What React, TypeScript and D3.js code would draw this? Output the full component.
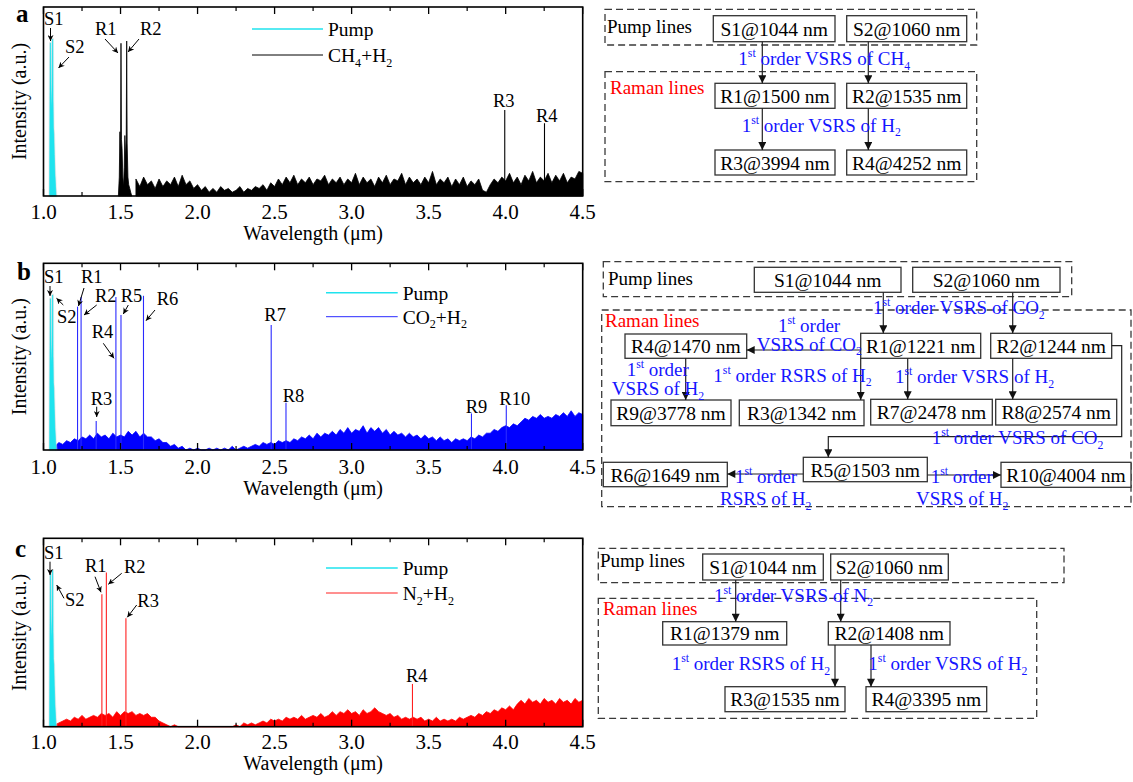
import React from "react";
import * as d3 from "d3";

const FONT = "'Liberation Serif','Times New Roman',Times,serif";

// ---------- axis ----------
const xMajorTicks = [1.0, 1.5, 2.0, 2.5, 3.0, 3.5, 4.0, 4.5];
const xMinorTicks = [1.25, 1.75, 2.25, 2.75, 3.25, 3.75, 4.25];
const xTickLabels = ["1.0", "1.5", "2.0", "2.5", "3.0", "3.5", "4.0", "4.5"];
const xDomain = [1.0, 4.5];

// ---------- pump (S1 / S2) ----------
const pumpWl = [1.040, 1.042, 1.044, 1.046, 1.048, 1.050, 1.053, 1.056, 1.058, 1.060, 1.062, 1.064, 1.067, 1.070, 1.074, 1.078, 1.082];
const pumpI = [0, 0.55, 0.81, 0.81, 0.6, 0.5, 0.45, 0.6, 0.83, 0.83, 0.5, 0.36, 0.33, 0.22, 0.12, 0.05, 0];

// ---------- panel a : CH4 + H2 ----------
const aClusterWl = [1.486, 1.492, 1.496, 1.500, 1.503, 1.506, 1.510, 1.515, 1.520, 1.524, 1.528, 1.533, 1.537, 1.540, 1.543, 1.548, 1.553, 1.560, 1.566, 1.573];
const aClusterI = [0, 0.1, 0.34, 0.2, 0.808, 0.3, 0.25, 0.1, 0.05, 0.15, 0.32, 0.2, 0.3, 0.82, 0.28, 0.1, 0.06, 0.04, 0.02, 0];
const aLineWl = [3.994, 4.252];
const aLineI = [0.455, 0.385];
const aNoiseStart = 1.6;
const aNoise = [
  0.09, 0.05, 0.1, 0.06, 0.08, 0.04, 0.09, 0.05, 0.08, 0.06, 0.1, 0.05, 0.11, 0.06, 0.08, 0.04,
  0.06, 0.03, 0.05, 0.02, 0.04, 0.02, 0.05, 0.03, 0.04, 0.02, 0.03, 0.05, 0.02, 0.04, 0.03, 0.05, 0.04, 0.06, 0.03, 0.07,
  0.05, 0.09, 0.06, 0.1, 0.07, 0.11, 0.06, 0.09, 0.07, 0.1, 0.06, 0.09, 0.08, 0.11, 0.06, 0.09, 0.07, 0.1, 0.06, 0.09,
  0.07, 0.12, 0.06, 0.1, 0.07, 0.09, 0.05, 0.1, 0.07, 0.11, 0.06, 0.09, 0.08, 0.12, 0.06, 0.1, 0.07, 0.09, 0.06, 0.1,
  0.07, 0.13, 0.06, 0.09, 0.07, 0.1, 0.05, 0.09, 0.06, 0.1, 0.05, 0.08, 0.06, 0.09, 0.03, 0.02, 0.06, 0.09, 0.07, 0.1,
  0.08, 0.12, 0.07, 0.1, 0.06, 0.11, 0.08, 0.13, 0.07, 0.1, 0.08, 0.12, 0.07, 0.11, 0.08, 0.12, 0.07, 0.1, 0.09, 0.13,
  0.12,
];

// ---------- panel b : CO2 + H2 ----------
const bLineWl = [1.221, 1.244, 1.342, 1.470, 1.503, 1.649, 2.478, 2.574, 3.778, 4.004];
const bLineI = [0.768, 0.82, 0.155, 0.82, 0.723, 0.826, 0.67, 0.253, 0.196, 0.24];
const bNoiseStart = 1.075;
const bNoise = [
  0.02, 0.04, 0.03,
  0.05, 0.04, 0.06, 0.05, 0.07, 0.06,
  0.08, 0.06, 0.09, 0.07, 0.08, 0.06, 0.09, 0.07,
  0.08, 0.07, 0.1, 0.08, 0.1, 0.07, 0.09, 0.07,
  0.07, 0.05, 0.06, 0.04, 0.04, 0.02, 0.03, 0.01,
  0.02, 0.0, 0.01, 0.0, 0.01, 0.0, 0.0, 0.01, 0.0, 0.01, 0.0, 0.01, 0.0, 0.02, 0.0, 0.01, 0.02, 0.01, 0.02, 0.03,
  0.02, 0.04, 0.03, 0.04, 0.03, 0.05, 0.04, 0.05, 0.04, 0.06, 0.05, 0.07, 0.06, 0.08, 0.06, 0.09, 0.07, 0.09, 0.08, 0.1,
  0.08, 0.11, 0.09, 0.12, 0.09, 0.11, 0.1, 0.13, 0.09, 0.12, 0.1, 0.12, 0.09, 0.11, 0.08, 0.1, 0.08, 0.09, 0.07, 0.09,
  0.07, 0.08, 0.06, 0.08, 0.06, 0.07, 0.05, 0.07, 0.05, 0.06, 0.04, 0.06, 0.05, 0.06, 0.05, 0.07, 0.06, 0.08, 0.07, 0.09,
  0.09, 0.11, 0.1, 0.12, 0.13, 0.12, 0.14, 0.13, 0.15, 0.17, 0.16, 0.18, 0.17, 0.19, 0.17, 0.18, 0.17, 0.19, 0.18, 0.2,
  0.18, 0.21, 0.18, 0.2, 0.19,
];

// ---------- panel c : N2 + H2 ----------
const cLineWl = [1.379, 1.408, 1.535, 3.395];
const cLineI = [0.703, 0.818, 0.576, 0.227];
const cNoiseStart = 1.075;
const cNoise = [
  0.01, 0.02, 0.03,
  0.04, 0.03, 0.05, 0.04, 0.06, 0.04,
  0.05, 0.06, 0.05, 0.07, 0.06, 0.07, 0.05, 0.08,
  0.06, 0.08, 0.07, 0.08, 0.06, 0.07, 0.06, 0.07,
  0.05, 0.05, 0.03, 0.02, 0.01, 0.0, 0.01, 0.0,
  0, 0, 0, 0, 0, 0, 0, 0, 0, 0, 0, 0, 0, 0, 0.01, 0.0, 0.02, 0.01, 0.02, 0.01,
  0.02, 0.03, 0.02, 0.04, 0.03, 0.04, 0.03, 0.05, 0.04, 0.05, 0.04, 0.06, 0.04, 0.05, 0.06, 0.05, 0.07, 0.05, 0.06, 0.08,
  0.06, 0.08, 0.07, 0.09, 0.07, 0.08, 0.06, 0.09, 0.07, 0.08, 0.1, 0.08, 0.07, 0.06, 0.07, 0.05, 0.06, 0.04, 0.05, 0.04,
  0.05, 0.04, 0.05, 0.03, 0.04, 0.03, 0.05, 0.03, 0.04, 0.03, 0.04, 0.03, 0.05, 0.04, 0.05, 0.06, 0.05, 0.07, 0.06, 0.08,
  0.07, 0.09, 0.08, 0.1, 0.09, 0.11, 0.09, 0.12, 0.14, 0.12, 0.15, 0.13, 0.14, 0.12, 0.15, 0.13, 0.14, 0.12, 0.15, 0.13,
  0.14, 0.12, 0.15, 0.13, 0.14,
];
const noiseStep = 0.025;

const PUMP_COLOR = "#1fe3ee";

// ---------- rich text helper (^{sup}, _{sub}) ----------
function RichText({ x, y, text, size, fill = "#000", anchor = "start", weight = "normal" }: any) {
  const parts = text.split(/(\^\{[^}]*\}|_\{[^}]*\})/).filter((p: string) => p.length);
  let cur = 0;
  return (
    <text x={x} y={y} fontSize={size} fill={fill} textAnchor={anchor} fontFamily={FONT} fontWeight={weight} style={{ whiteSpace: "pre" }}>
      {parts.map((p: string, i: number) => {
        let t = p, target = 0, fs = size;
        if (p.startsWith("^{")) { t = p.slice(2, -1); target = -size * 0.42; fs = size * 0.62; }
        else if (p.startsWith("_{")) { t = p.slice(2, -1); target = size * 0.24; fs = size * 0.62; }
        const dy = target - cur;
        cur = target;
        return <tspan key={i} dy={dy} fontSize={fs}>{t}</tspan>;
      })}
    </text>
  );
}

// ---------- spectrum panel ----------
const X0 = 43.5, X1 = 582.7;

function Spectrum({ cfg }: any) {
  const x = d3.scaleLinear().domain(xDomain).range([X0, X1]);
  const y = d3.scaleLinear().domain([0, 1]).range([cfg.bottom, cfg.top]);
  const area = d3.area<[number, number]>().x(d => x(d[0])).y0(y(0)).y1(d => y(d[1]));
  const noiseData: [number, number][] = cfg.noise.map((v: number, i: number) => [cfg.noiseStart + i * noiseStep, v]);
  const pumpData: [number, number][] = pumpWl.map((w, i) => [w, pumpI[i]]);
  const clusterData: [number, number][] | null = cfg.clusterWl ? cfg.clusterWl.map((w: number, i: number) => [w, cfg.clusterI[i]]) : null;
  const cx = (X0 + X1) / 2;
  const cy = (cfg.top + cfg.bottom) / 2;
  return (
    <g>
      <path d={area(noiseData) || ""} fill={cfg.color} stroke={cfg.color} strokeWidth={0.8} />
      {clusterData && <path d={area(clusterData) || ""} fill={cfg.color} stroke={cfg.color} strokeWidth={0.8} />}
      {cfg.lineWl.map((w: number, i: number) => (
        <line key={i} x1={x(w)} x2={x(w)} y1={y(0)} y2={y(cfg.lineI[i])} stroke={cfg.lineColor} strokeWidth={1.1} />
      ))}
      <path d={area(pumpData) || ""} fill={PUMP_COLOR} stroke="#dcdcdc" strokeWidth={2.5} strokeOpacity={0.6} />
      <path d={area(pumpData) || ""} fill={PUMP_COLOR} stroke={PUMP_COLOR} strokeWidth={0.6} />
      {/* frame */}
      <rect x={X0} y={cfg.top} width={X1 - X0} height={cfg.bottom - cfg.top} fill="none" stroke="#000" strokeWidth={1.6} />
      {xMajorTicks.map((t, i) => (
        <g key={"M" + i}>
          <line x1={x(t)} x2={x(t)} y1={cfg.bottom} y2={cfg.bottom - 7} stroke="#000" strokeWidth={1.3} />
          <line x1={x(t)} x2={x(t)} y1={cfg.top} y2={cfg.top + 7} stroke="#000" strokeWidth={1.3} />
          <text x={x(t)} y={cfg.tickY} textAnchor="middle" fontSize={21} fontFamily={FONT}>{xTickLabels[i]}</text>
        </g>
      ))}
      {xMinorTicks.map((t, i) => (
        <g key={"m" + i}>
          <line x1={x(t)} x2={x(t)} y1={cfg.bottom} y2={cfg.bottom - 4} stroke="#000" strokeWidth={1.2} />
          <line x1={x(t)} x2={x(t)} y1={cfg.top} y2={cfg.top + 4} stroke="#000" strokeWidth={1.2} />
        </g>
      ))}
      <text x={cx} y={cfg.titleY} textAnchor="middle" fontSize={20} fontFamily={FONT}>Wavelength (μm)</text>
      <text transform={`translate(26,${cy}) rotate(-90)`} textAnchor="middle" fontSize={20} fontFamily={FONT}>Intensity (a.u.)</text>
      <text x={cfg.letterX} y={cfg.letterY} fontSize={25} fontWeight="bold" fontFamily={FONT}>{cfg.id}</text>
      {/* legend */}
      <line x1={cfg.legX[0]} x2={cfg.legX[1]} y1={cfg.legY[0]} y2={cfg.legY[0]} stroke={PUMP_COLOR} strokeWidth={1.6} />
      <line x1={cfg.legX[0]} x2={cfg.legX[1]} y1={cfg.legY[1]} y2={cfg.legY[1]} stroke={cfg.lineColor} strokeWidth={1} />
      <RichText x={cfg.legX[1] + 5} y={cfg.legY[0] + 7} text="Pump" size={19.5} />
      <RichText x={cfg.legX[1] + 5} y={cfg.legY[1] + 7} text={cfg.legend} size={19.5} />
      {/* annotations */}
      {cfg.ann.map((a: any, i: number) => (
        <g key={"a" + i}>
          <text x={a.t[0]} y={a.t[1]} fontSize={18.5} fontFamily={FONT} textAnchor={a.mid ? "middle" : "start"}>{a.label}</text>
          {a.arr && <line x1={a.arr[0]} y1={a.arr[1]} x2={a.arr[2]} y2={a.arr[3]} stroke="#000" strokeWidth={1} markerEnd="url(#smallArrow)" />}
        </g>
      ))}
    </g>
  );
}

const panels = [
  {
    id: "a", top: 7, bottom: 196, tickY: 219, titleY: 240, letterX: 16, letterY: 22,
    color: "#000", lineColor: "#000", legend: "CH_{4}+H_{2}", legX: [252, 323], legY: [29, 55],
    noise: aNoise, noiseStart: aNoiseStart, clusterWl: aClusterWl, clusterI: aClusterI,
    lineWl: aLineWl, lineI: aLineI,
    ann: [
      { label: "S1", t: [44, 25], arr: [50.5, 28, 50.5, 41] },
      { label: "S2", t: [65, 53], arr: [69, 57, 58.5, 68] },
      { label: "R1", t: [95, 35], arr: [105, 39, 118, 53] },
      { label: "R2", t: [140, 35], arr: [139, 39, 128, 52] },
      { label: "R3", t: [493, 106.5] },
      { label: "R4", t: [536, 121.5] },
    ],
  },
  {
    id: "b", top: 263.3, bottom: 450, tickY: 473.5, titleY: 495, letterX: 17, letterY: 280,
    color: "#0000ff", lineColor: "#2a2aff", legend: "CO_{2}+H_{2}", legX: [326, 397.7], legY: [292.7, 316.7],
    noise: bNoise, noiseStart: bNoiseStart, lineWl: bLineWl, lineI: bLineI,
    ann: [
      { label: "S1", t: [44, 283.3], arr: [50, 286, 50, 296] },
      { label: "S2", t: [57, 323.3], arr: [63.3, 305, 56.5, 298.3] },
      { label: "R1", t: [81, 283.3], arr: [84, 288, 78.5, 306] },
      { label: "R2", t: [95, 301.7], arr: [96.7, 305, 84, 315] },
      { label: "R5", t: [120.7, 301.7], arr: [128.3, 305, 123.3, 314] },
      { label: "R6", t: [156.7, 305], arr: [155, 310, 146, 320.7] },
      { label: "R4", t: [91.7, 338.3], arr: [103.3, 343.3, 114, 358.3] },
      { label: "R3", t: [90.7, 405], arr: [96.7, 406.7, 96.7, 417] },
      { label: "R7", t: [264.3, 321] },
      { label: "R8", t: [282.7, 401.7] },
      { label: "R9", t: [465.7, 412.7] },
      { label: "R10", t: [499.3, 405] },
    ],
  },
  {
    id: "c", top: 538.3, bottom: 726.7, tickY: 748.5, titleY: 770, letterX: 15, letterY: 556.7,
    color: "#ff0000", lineColor: "#ff2020", legend: "N_{2}+H_{2}", legX: [326, 397.7], legY: [568, 593],
    noise: cNoise, noiseStart: cNoiseStart, lineWl: cLineWl, lineI: cLineI,
    ann: [
      { label: "S1", t: [44, 559.3], arr: [50, 561.7, 50, 575] },
      { label: "S2", t: [65, 605.7], arr: [64, 598.3, 56.7, 585] },
      { label: "R1", t: [85, 571.7], arr: [95, 576.7, 101, 592.3] },
      { label: "R2", t: [124, 573.3], arr: [121.7, 573.3, 108.3, 584.3] },
      { label: "R3", t: [137.3, 606.7], arr: [136.7, 605, 127.3, 617.3] },
      { label: "R4", t: [406, 681.7] },
    ],
  },
];

// ---------- level diagrams ----------
const diagrams = [
  {
    dashed: [[605, 9.3, 976.7, 45], [605, 71.7, 976.7, 181.7]],
    pumpText: [607, 33.3], ramanText: [610, 94.3],
    boxes: [
      { r: [713.3, 15.7, 835, 41.7], t: "S1@1044 nm" },
      { r: [846.7, 15.7, 966.7, 41.7], t: "S2@1060 nm" },
      { r: [715, 83.3, 835, 108.3], t: "R1@1500 nm" },
      { r: [846.7, 83.3, 966.7, 108.3], t: "R2@1535 nm" },
      { r: [715, 150, 835, 175], t: "R3@3994 nm" },
      { r: [846.7, 150, 966.7, 175], t: "R4@4252 nm" },
    ],
    arrows: [
      [[762.3, 41.7], [762.3, 83.3]], [[868.3, 41.7], [868.3, 83.3]],
      [[762.3, 108.3], [762.3, 150]], [[868.3, 108.3], [868.3, 150]],
    ],
    blue: [
      { p: [738.3, 65], t: "1^{st} order VSRS of CH_{4}" },
      { p: [741.7, 131.7], t: "1^{st} order VSRS of H_{2}" },
    ],
  },
  {
    dashed: [[603.3, 261.7, 1071.7, 296.7], [601.7, 310, 1131, 506.7]],
    pumpText: [608, 285], ramanText: [605, 326.7],
    boxes: [
      { r: [754.3, 267.3, 901, 292.3], t: "S1@1044 nm" },
      { r: [912.7, 267.3, 1060, 292.3], t: "S2@1060 nm" },
      { r: [625, 334, 746.7, 358.3], t: "R4@1470 nm" },
      { r: [860.7, 333.3, 980.7, 358.3], t: "R1@1221 nm" },
      { r: [990.7, 333.3, 1111.7, 358.3], t: "R2@1244 nm" },
      { r: [611, 400, 731, 425.7], t: "R9@3778 nm" },
      { r: [739.3, 400, 864, 425.7], t: "R3@1342 nm" },
      { r: [870.7, 399.3, 992.3, 425], t: "R7@2478 nm" },
      { r: [995.7, 399.3, 1116.7, 425], t: "R8@2574 nm" },
      { r: [803.3, 457.3, 927.3, 481.7], t: "R5@1503 nm" },
      { r: [603.3, 462.3, 727.3, 486.7], t: "R6@1649 nm" },
      { r: [1001, 462.3, 1131, 487.3], t: "R10@4004 nm" },
    ],
    arrows: [
      [[883.3, 292.3], [883.3, 333.3]], [[1012.7, 292.3], [1012.7, 333.3]],
      [[860.7, 350], [746.7, 350]], [[860.7, 358.3], [860.7, 400]],
      [[685.7, 358.3], [685.7, 400]], [[907.7, 358.3], [907.7, 399.3]],
      [[1012.7, 358.3], [1012.7, 399.3]],
      [[1111.7, 345.7], [1121.7, 345.7], [1121.7, 436.7], [828.3, 436.7], [828.3, 457.3]],
      [[803.3, 474], [727.3, 474]], [[927.3, 475], [1001, 475]],
    ],
    blue: [
      { p: [873, 314.3], t: "1^{st} order VSRS of CO_{2}" },
      { p: [778, 331.7], t: "1^{st} order" },
      { p: [756.7, 350.7], t: "VSRS of CO_{2}" },
      { p: [713.3, 381.7], t: "1^{st} order RSRS of H_{2}" },
      { p: [626.7, 375.7], t: "1^{st} order" },
      { p: [611.7, 395], t: "VSRS of H_{2}" },
      { p: [895, 383.3], t: "1^{st} order VSRS of H_{2}" },
      { p: [931.7, 444.3], t: "1^{st} order VSRS of CO_{2}" },
      { p: [735, 482.7], t: "1^{st} order" },
      { p: [720, 505], t: "RSRS of H_{2}" },
      { p: [930.7, 482.7], t: "1^{st} order" },
      { p: [916, 505], t: "VSRS of H_{2}" },
    ],
  },
  {
    dashed: [[598.3, 548.3, 1064, 582.7], [598.3, 598.3, 1036.7, 718.3]],
    pumpText: [600, 566.7], ramanText: [603, 615],
    boxes: [
      { r: [702.7, 554, 823.3, 580], t: "S1@1044 nm" },
      { r: [830.7, 554, 948.3, 580], t: "S2@1060 nm" },
      { r: [662.7, 621.7, 786.7, 645], t: "R1@1379 nm" },
      { r: [828.3, 621.7, 950, 645], t: "R2@1408 nm" },
      { r: [725, 686.7, 845, 711.7], t: "R3@1535 nm" },
      { r: [866, 686.7, 986.7, 711.7], t: "R4@3395 nm" },
    ],
    arrows: [
      [[735.7, 580], [735.7, 621.7]], [[840.7, 580], [840.7, 621.7]],
      [[835, 645], [835, 686.7]], [[871, 645], [871, 686.7]],
    ],
    blue: [
      { p: [714, 601.7], t: "1^{st} order VSRS of N_{2}" },
      { p: [671.7, 670], t: "1^{st} order RSRS of H_{2}" },
      { p: [868.3, 670], t: "1^{st} order VSRS of H_{2}" },
    ],
  },
];

function Diagram({ d }: any) {
  const line = d3.line();
  return (
    <g>
      {d.dashed.map((r: number[], i: number) => (
        <rect key={i} x={r[0]} y={r[1]} width={r[2] - r[0]} height={r[3] - r[1]} fill="none" stroke="#3a3a3a" strokeWidth={1.3} strokeDasharray="7,4" />
      ))}
      <text x={d.pumpText[0]} y={d.pumpText[1]} fontSize={19} fontFamily={FONT}>Pump lines</text>
      <text x={d.ramanText[0]} y={d.ramanText[1]} fontSize={19} fontFamily={FONT} fill="#ff0000">Raman lines</text>
      {d.boxes.map((b: any, i: number) => (
        <g key={i}>
          <rect x={b.r[0]} y={b.r[1]} width={b.r[2] - b.r[0]} height={b.r[3] - b.r[1]} fill="#fff" stroke="#333" strokeWidth={1.3} />
          <text x={(b.r[0] + b.r[2]) / 2} y={(b.r[1] + b.r[3]) / 2 + 7} textAnchor="middle" fontSize={19.5} fontFamily={FONT}>{b.t}</text>
        </g>
      ))}
      {d.arrows.map((a: [number, number][], i: number) => (
        <path key={i} d={line(a) || ""} fill="none" stroke="#222" strokeWidth={1.2} markerEnd="url(#bigArrow)" />
      ))}
      {d.blue.map((b: any, i: number) => (
        <RichText key={i} x={b.p[0]} y={b.p[1]} text={b.t} size={19} fill="#1515ff" />
      ))}
    </g>
  );
}

export default function App() {
  return (
    <svg width={1133} height={782} style={{ position: "absolute", left: 0, top: 0, background: "#fff" }} fontFamily={FONT}>
      <defs>
        <marker id="smallArrow" viewBox="0 0 10 10" refX="10" refY="5" markerWidth="6" markerHeight="6" markerUnits="userSpaceOnUse" orient="auto">
          <path d="M0,0 L10,5 L0,10 L3,5 z" fill="#000" />
        </marker>
        <marker id="bigArrow" viewBox="0 0 10 10" refX="10" refY="5" markerWidth="9" markerHeight="8" markerUnits="userSpaceOnUse" orient="auto">
          <path d="M0,0 L10,5 L0,10 z" fill="#111" />
        </marker>
      </defs>
      <rect x={0} y={0} width={1133} height={782} fill="#fff" />
      {panels.map(p => <Spectrum key={p.id} cfg={p} />)}
      {diagrams.map((d, i) => <Diagram key={i} d={d} />)}
    </svg>
  );
}
